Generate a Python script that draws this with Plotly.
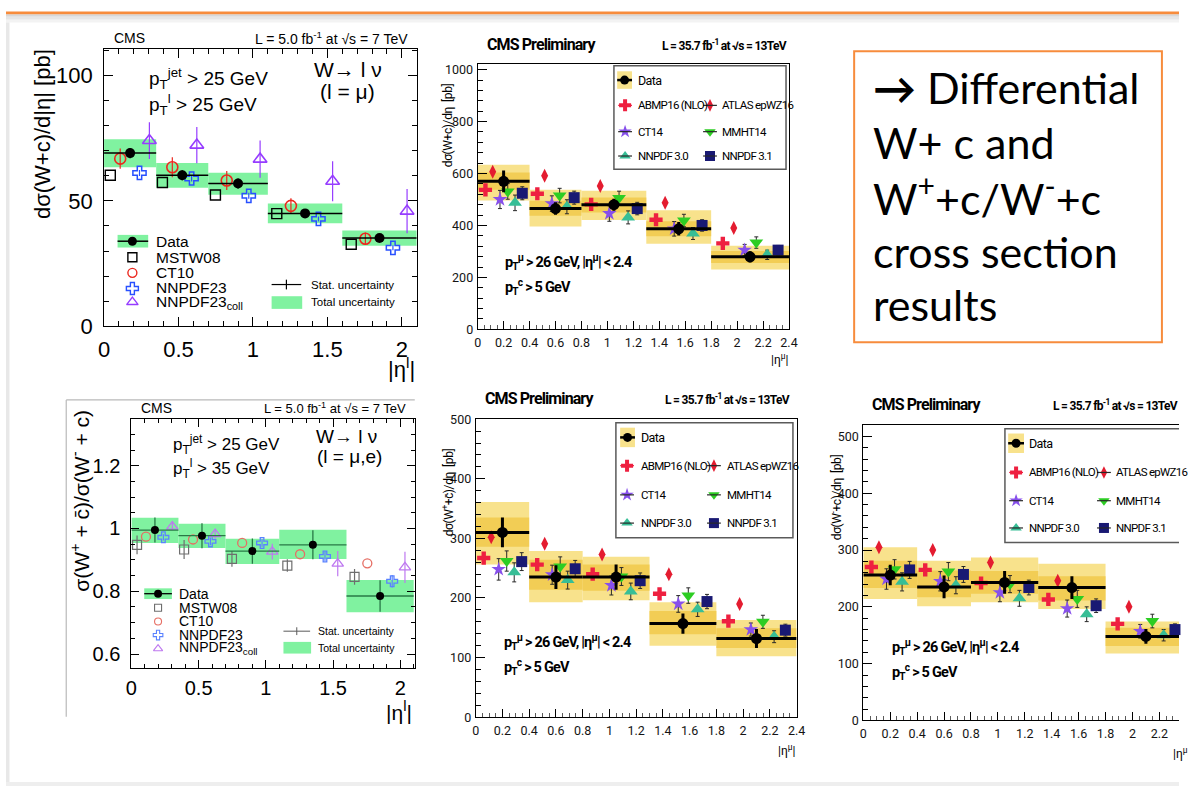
import plotly.graph_objects as go

W, H = 1188, 799
ARIAL = "Liberation Sans, Arial, Helvetica, sans-serif"
NARROW = "Roboto, Liberation Sans, Arial, sans-serif"
SLIDE = "Lato, Carlito, Calibri, sans-serif"

GREEN = "rgb(128,242,160)"
DKGREEN = "rgb(40,120,70)"
YEL_OUT = "rgb(248,226,140)"
YEL_IN = "rgb(242,205,85)"
ORANGE = "rgb(247,140,60)"

C_ABMP = "rgb(238,32,64)"
C_ATLAS = "rgb(228,28,48)"
C_CT14 = "rgb(135,80,235)"
C_MMHT = "rgb(45,205,35)"
C_NN30 = "rgb(55,190,150)"
C_NN31 = "rgb(25,25,115)"

# ---------------- 7 TeV (CMS, 5.0 fb-1) ----------------
ETA7_EDGES = [0.0, 0.35, 0.7, 1.1, 1.6, 2.1]

# dsigma(W+c)/d|eta| [pb]
WC7_DATA = [69.0, 60.2, 56.9, 45.0, 35.2]
WC7_STAT = [2.0, 2.0, 2.0, 1.8, 1.6]
WC7_TOT_LO = [63.4, 55.2, 52.4, 41.1, 32.1]
WC7_TOT_HI = [74.5, 65.1, 61.2, 48.9, 38.2]
WC7_MSTW08 = [60.2, 57.3, 52.3, 44.9, 32.7]
WC7_CT10 = [66.8, 63.4, 58.1, 48.0, 34.9]
WC7_CT10_ERR = [4.0, 4.0, 3.8, 3.0, 2.5]
WC7_NNPDF23 = [61.1, 58.9, 52.0, 42.8, 31.3]
WC7_NNPDF23_ERR = [1.2, 1.2, 1.2, 1.0, 1.0]
WC7_COLL = [74.0, 72.2, 66.6, 57.8, 45.9]
WC7_COLL_ERR = [7.3, 7.2, 7.4, 8.0, 8.8]

# sigma(W+ + cbar) / sigma(W- + c)
R7_DATA = [0.995, 0.977, 0.928, 0.948, 0.785]
R7_STAT = [0.04, 0.04, 0.04, 0.046, 0.05]
R7_TOT_LO = [0.954, 0.938, 0.887, 0.903, 0.733]
R7_TOT_HI = [1.034, 1.015, 0.967, 0.996, 0.836]
R7_MSTW08 = [0.948, 0.933, 0.903, 0.882, 0.846]
R7_MSTW08_ERR = [0.03, 0.03, 0.025, 0.02, 0.025]
R7_CT10 = [0.974, 0.965, 0.954, 0.918, 0.889]
R7_NNPDF23 = [0.972, 0.959, 0.954, 0.911, 0.832]
R7_NNPDF23_ERR = [0.01, 0.012, 0.012, 0.015, 0.02]
R7_COLL = [1.006, 0.982, 0.926, 0.888, 0.876]
R7_COLL_ERR = [0.012, 0.015, 0.025, 0.04, 0.05]

# ---------------- 13 TeV (CMS Preliminary, 35.7 fb-1) ----------------
ETA13_EDGES = [0.0, 0.4, 0.8, 1.3, 1.8, 2.4]

# dsigma(W+c)/deta [pb]
WC13_DATA = [570, 465, 480, 387, 279]
WC13_STAT = [42, 24, 23, 26, 22]
WC13_TOT_LO = [496, 396, 421, 330, 230]
WC13_TOT_HI = [634, 537, 534, 459, 322]
WC13_SYS_LO = [537, 437, 450, 358, 255]
WC13_SYS_HI = [604, 495, 508, 416, 302]
WC13_ABMP16 = [537, 522, 481, 422, 331]
WC13_ATLAS = [607, 591, 552, 487, 390]
WC13_CT14 = [500, 484, 446, 387, 305]
WC13_MMHT14 = [531, 515, 506, 419, 334]
WC13_NNPDF30 = [487, 472, 431, 369, 287]
WC13_NNPDF31 = [524, 507, 465, 400, 305]
WC13_CT14_ERR = [35, 30, 30, 28, 22]
WC13_MMHT14_ERR = [30, 28, 26, 24, 22]
WC13_NNPDF30_ERR = [30, 27, 25, 23, 18]
WC13_NNPDF31_ERR = [25, 25, 24, 22, 18]

# dsigma(W+ + cbar)/deta [pb]
WP13_DATA = [310, 235, 235, 157, 132]
WP13_STAT = [25, 20, 21, 17, 16]
WP13_TOT_LO = [256, 193, 196, 120, 102]
WP13_TOT_HI = [361, 279, 269, 193, 163]
WP13_SYS_LO = [286, 214, 212, 139, 116]
WP13_SYS_HI = [335, 264, 256, 178, 149]
WP13_ABMP16 = [267, 256, 240, 207, 161]
WP13_ATLAS = [302, 291, 273, 240, 190]
WP13_CT14 = [248, 239, 221, 190, 147]
WP13_MMHT14 = [262, 253, 236, 204, 160]
WP13_NNPDF30 = [243, 230, 211, 181, 135]
WP13_NNPDF31 = [261, 249, 229, 194, 146]
WP13_CT14_ERR = [18, 16, 16, 14, 11]
WP13_MMHT14_ERR = [17, 16, 15, 13, 11]
WP13_NNPDF30_ERR = [16, 15, 14, 12, 10]
WP13_NNPDF31_ERR = [15, 14, 13, 12, 10]

# dsigma(W- + c)/deta [pb]
WM13_DATA = [256, 235, 243, 234, 148]
WM13_STAT = [18, 20, 20, 20, 13]
WM13_TOT_LO = [214, 201, 208, 196, 118]
WM13_TOT_HI = [305, 281, 287, 276, 174]
WM13_SYS_LO = [233, 217, 223, 211, 131]
WM13_SYS_HI = [281, 264, 263, 254, 163]
WM13_ABMP16 = [270, 265, 242, 213, 170]
WM13_ATLAS = [305, 300, 278, 246, 200]
WM13_CT14 = [249, 245, 225, 197, 157]
WM13_MMHT14 = [266, 262, 240, 214, 175]
WM13_NNPDF30 = [244, 238, 215, 187, 150]
WM13_NNPDF31 = [265, 257, 234, 202, 160]
WM13_CT14_ERR = [18, 17, 16, 15, 12]
WM13_MMHT14_ERR = [17, 16, 15, 15, 12]
WM13_NNPDF30_ERR = [16, 15, 14, 13, 10]
WM13_NNPDF31_ERR = [15, 14, 13, 12, 10]

# ---------------- layout of the five panels (pixel frames) ----------------
PANELS = {
    1: dict(px=(99.3, 416.0), py=(42.0, 327.0), xr=[0, 2.1], yr=[0, 110.5]),
    2: dict(px=(477.7, 793.0), py=(57.7, 330.0), xr=[0, 2.4], yr=[0, 1021]),
    3: dict(px=(127.0, 414.0), py=(421.7, 678.0), xr=[0, 2.108], yr=[0.555, 1.35]),
    4: dict(px=(475.7, 800.7), py=(422.3, 728.3), xr=[0, 2.4], yr=[0, 500]),
    5: dict(px=(868.3, 1188.0), py=(428.3, 731.7), xr=[0, 2.346], yr=[0, 520]),
}
CANVAS = 6

# horizontal placement of predictions inside a bin (fraction of bin width)
OFF7 = dict(mstw=[0.12] * 5, ct10=[0.31] * 5, nnpdf=[0.68] * 5,
            coll=[0.87, 0.78, 0.87, 0.87, 0.87])
OFF13 = dict(abmp=0.15, atlas=0.29, ct14=0.43, mmht=0.58, nn30=0.72, nn31=0.86)


def centers(e):
    return [(a + b) / 2 for a, b in zip(e[:-1], e[1:])]


def halfw(e):
    return [(b - a) / 2 for a, b in zip(e[:-1], e[1:])]


def widths(e):
    return [b - a for a, b in zip(e[:-1], e[1:])]


def at_frac(e, fr):
    if not isinstance(fr, list):
        fr = [fr] * (len(e) - 1)
    return [a + f * (b - a) for a, b, f in zip(e[:-1], e[1:], fr)]


def refs(n):
    return ("x" if n == 1 else f"x{n}"), ("y" if n == 1 else f"y{n}")


fig = go.Figure()


def add(tr, n):
    xr, yr = refs(n)
    tr.update(xaxis=xr, yaxis=yr, showlegend=False, hoverinfo="skip")
    fig.add_trace(tr)


def band(n, edges, lo, hi, color):
    add(go.Bar(x=centers(edges), y=[h - l for l, h in zip(lo, hi)], base=lo,
               width=widths(edges), marker=dict(color=color, line=dict(width=0))), n)


def pts(n, x, y, symbol, size, color, err=None, ecolor=None, ethick=1.2,
        ewidth=0, lw=1.5, open_=False):
    mk = dict(symbol=symbol, size=size, color=color)
    if open_:
        mk["line"] = dict(color=color, width=lw)
    else:
        mk["line"] = dict(width=0)
    tr = go.Scatter(x=x, y=y, mode="markers", marker=mk, cliponaxis=False)
    if err is not None:
        tr.update(error_y=dict(type="data", array=err, color=ecolor or color,
                               thickness=ethick, width=ewidth))
    add(tr, n)


def data_pts(n, edges, y, stat, size, color, thick, lcolor):
    add(go.Scatter(x=centers(edges), y=y, mode="markers",
                   marker=dict(symbol="circle", size=size, color=color),
                   error_x=dict(type="data", array=halfw(edges), color=lcolor,
                                thickness=thick, width=0),
                   error_y=dict(type="data", array=stat, color=lcolor,
                                thickness=thick, width=0)), n)


# ---------- panel 1: W+c 7 TeV ----------
band(1, ETA7_EDGES, WC7_TOT_LO, WC7_TOT_HI, GREEN)
pts(1, at_frac(ETA7_EDGES, OFF7["mstw"]), WC7_MSTW08, "square-open", 10, "black", lw=1.4, open_=True)
pts(1, at_frac(ETA7_EDGES, OFF7["ct10"]), WC7_CT10, "circle-open", 11, "rgb(235,40,30)",
    err=WC7_CT10_ERR, lw=1.6, open_=True)
pts(1, at_frac(ETA7_EDGES, OFF7["nnpdf"]), WC7_NNPDF23, "cross-open", 11, "rgb(40,80,255)",
    err=WC7_NNPDF23_ERR, lw=1.5, open_=True)
pts(1, at_frac(ETA7_EDGES, OFF7["coll"]), WC7_COLL, "triangle-up-open", 12, "rgb(150,60,255)",
    err=WC7_COLL_ERR, lw=1.6, open_=True)
data_pts(1, ETA7_EDGES, WC7_DATA, WC7_STAT, 10, "black", 1.5, "black")

# ---------- panel 3: ratio 7 TeV ----------
band(3, ETA7_EDGES, R7_TOT_LO, R7_TOT_HI, GREEN)
pts(3, at_frac(ETA7_EDGES, OFF7["mstw"]), R7_MSTW08, "square-open", 9, "rgb(110,110,110)",
    err=R7_MSTW08_ERR, lw=1.2, open_=True)
pts(3, at_frac(ETA7_EDGES, OFF7["ct10"]), R7_CT10, "circle-open", 9, "rgb(230,110,100)",
    lw=1.3, open_=True)
pts(3, at_frac(ETA7_EDGES, OFF7["nnpdf"]), R7_NNPDF23, "cross-open", 9, "rgb(90,130,255)",
    err=R7_NNPDF23_ERR, lw=1.3, open_=True)
pts(3, at_frac(ETA7_EDGES, OFF7["coll"]), R7_COLL, "triangle-up-open", 10, "rgb(190,120,240)",
    err=R7_COLL_ERR, lw=1.3, open_=True)
data_pts(3, ETA7_EDGES, R7_DATA, R7_STAT, 8, "black", 1.3, DKGREEN)


# ---------- 13 TeV panels ----------
def panel13(n, tlo, thi, slo, shi, data, stat, abmp, atlas, ct14, mmht, nn30, nn31,
            e_ct14, e_mmht, e_nn30, e_nn31):
    e = ETA13_EDGES
    band(n, e, tlo, thi, YEL_OUT)
    band(n, e, slo, shi, YEL_IN)
    ek = dict(ecolor="rgb(40,40,40)", ethick=1, ewidth=2)
    pts(n, at_frac(e, OFF13["abmp"]), abmp, "cross", 11, C_ABMP)
    pts(n, at_frac(e, OFF13["atlas"]), atlas, "diamond-tall", 10, C_ATLAS)
    pts(n, at_frac(e, OFF13["ct14"]), ct14, "star", 11, C_CT14, err=e_ct14, **ek)
    pts(n, at_frac(e, OFF13["mmht"]), mmht, "triangle-down", 12, C_MMHT, err=e_mmht, **ek)
    pts(n, at_frac(e, OFF13["nn30"]), nn30, "triangle-up", 12, C_NN30, err=e_nn30, **ek)
    pts(n, at_frac(e, OFF13["nn31"]), nn31, "square", 11, C_NN31, err=e_nn31, **ek)
    data_pts(n, e, data, stat, 11, "black", 3, "black")


panel13(2, WC13_TOT_LO, WC13_TOT_HI, WC13_SYS_LO, WC13_SYS_HI, WC13_DATA, WC13_STAT,
        WC13_ABMP16, WC13_ATLAS, WC13_CT14, WC13_MMHT14, WC13_NNPDF30, WC13_NNPDF31,
        WC13_CT14_ERR, WC13_MMHT14_ERR, WC13_NNPDF30_ERR, WC13_NNPDF31_ERR)
panel13(4, WP13_TOT_LO, WP13_TOT_HI, WP13_SYS_LO, WP13_SYS_HI, WP13_DATA, WP13_STAT,
        WP13_ABMP16, WP13_ATLAS, WP13_CT14, WP13_MMHT14, WP13_NNPDF30, WP13_NNPDF31,
        WP13_CT14_ERR, WP13_MMHT14_ERR, WP13_NNPDF30_ERR, WP13_NNPDF31_ERR)
panel13(5, WM13_TOT_LO, WM13_TOT_HI, WM13_SYS_LO, WM13_SYS_HI, WM13_DATA, WM13_STAT,
        WM13_ABMP16, WM13_ATLAS, WM13_CT14, WM13_MMHT14, WM13_NNPDF30, WM13_NNPDF31,
        WM13_CT14_ERR, WM13_MMHT14_ERR, WM13_NNPDF30_ERR, WM13_NNPDF31_ERR)

# ---------- axes ----------
layout = {}


def set_axes(n, xkw, ykw):
    p = PANELS[n]
    xa = "xaxis" if n == 1 else f"xaxis{n}"
    ya = "yaxis" if n == 1 else f"yaxis{n}"
    xr, yr = refs(n)
    base = dict(showline=True, linecolor="black", linewidth=1, ticks="inside",
                tickcolor="black", tickwidth=1, showgrid=False, zeroline=False,
                fixedrange=True)
    layout[xa] = dict(base, domain=[p["px"][0] / W, p["px"][1] / W], range=p["xr"],
                      anchor=yr, **xkw)
    layout[ya] = dict(base, domain=[1 - p["py"][1] / H, 1 - p["py"][0] / H], range=p["yr"],
                      anchor=xr, **ykw)


F7 = dict(family=ARIAL, color="black")
set_axes(1,
         dict(mirror="allticks", dtick=0.5, tick0=0, ticklen=9, tickfont=dict(F7, size=22),
              ticklabelstandoff=3,
              minor=dict(dtick=0.1, ticklen=5, ticks="inside", tickcolor="black")),
         dict(mirror="allticks", dtick=50, tick0=0, ticklen=9, tickfont=dict(F7, size=22),
              ticklabelstandoff=6,
              minor=dict(dtick=10, ticklen=5, ticks="inside", tickcolor="black")))
set_axes(3,
         dict(mirror="allticks", dtick=0.5, tick0=0, ticklen=8, tickfont=dict(F7, size=20),
              ticklabelstandoff=2,
              minor=dict(dtick=0.1, ticklen=4, ticks="inside", tickcolor="black")),
         dict(mirror="allticks", dtick=0.2, tick0=0.6, ticklen=8, tickfont=dict(F7, size=20),
              ticklabelstandoff=6,
              minor=dict(dtick=0.05, ticklen=4, ticks="inside", tickcolor="black")))
F13 = dict(family=NARROW, color="rgb(20,20,20)", size=12.5)
for n, yd, ym in [(2, 200, 40), (4, 100, 20), (5, 100, 20)]:
    set_axes(n,
             dict(mirror=True, dtick=0.2, tick0=0, ticklen=8, tickfont=F13,
                  ticklabelstandoff=2,
                  minor=dict(dtick=0.05, ticklen=4, ticks="inside", tickcolor="rgb(90,90,90)")),
             dict(mirror=(n != 5), dtick=yd, tick0=0, ticklen=9, tickfont=F13,
                  ticklabelstandoff=1,
                  minor=dict(dtick=ym, ticklen=5, ticks="inside", tickcolor="black")))

# full-page pixel canvas used for slide decoration, legends and labels
layout["xaxis6"] = dict(domain=[0, 1], range=[0, W], visible=False, anchor="y6", fixedrange=True)
layout["yaxis6"] = dict(domain=[0, 1], range=[H, 0], visible=False, anchor="x6", fixedrange=True)

shapes = []
annotations = []


def rect(x0, y0, x1, y1, fill=None, line=None, lw=0, layer="below"):
    shapes.append(dict(type="rect", xref="x6", yref="y6", x0=x0, y0=y0, x1=x1, y1=y1,
                       fillcolor=fill or "rgba(0,0,0,0)",
                       line=dict(color=line or "rgba(0,0,0,0)", width=lw), layer=layer))


def seg(x0, y0, x1, y1, color, lw, layer="above"):
    shapes.append(dict(type="line", xref="x6", yref="y6", x0=x0, y0=y0, x1=x1, y1=y1,
                       line=dict(color=color, width=lw), layer=layer))


def txt(x, y, s, size, family=ARIAL, xa="left", ya="middle", angle=0, color="black"):
    annotations.append(dict(xref="x6", yref="y6", x=x, y=y, text=s, showarrow=False,
                            xanchor=xa, yanchor=ya, textangle=angle,
                            font=dict(family=family, size=size, color=color)))


def tight(s, ls):
    # condensed look for the 13 TeV labels
    return f"<span style='letter-spacing:{ls}px'>{s}</span>"


def key(x, y, symbol, size, color, open_=False, lw=1.4):
    mk = dict(symbol=symbol, size=size, color=color)
    mk["line"] = dict(color=color, width=lw) if open_ else dict(width=0)
    add(go.Scatter(x=[x], y=[y], mode="markers", marker=mk, cliponaxis=False), CANVAS)


# slide decoration
rect(0, 6.5, W, 9, fill="rgb(215,215,215)")
rect(0, 9, W, 12, fill="rgb(230,230,230)")
rect(0, 12, W, 15, fill="rgb(243,243,243)")
rect(0, 3.5, W, 6.5, fill=ORANGE)
rect(0, 15, 3.5, H, fill="rgb(232,232,232)")
rect(0, 795, W, H, fill="rgb(238,238,238)")
seg(61, 402.5, 414, 402.5, "rgb(185,185,185)", 1.2, layer="below")
seg(61, 402.5, 61, 728, "rgb(185,185,185)", 1.2, layer="below")

# summary box
rect(859, 44.3, 1170.7, 343.3, line=ORANGE, lw=2)
for s, y in [("<b>→</b> Differential", 82), ("W+ c and", 138),
             ("W<sup>+</sup>+c/W<sup>-</sup>+c", 193), ("cross section", 250),
             ("results", 305)]:
    txt(876, y, s, 43, family=SLIDE)

# ---- panel 1 labels ----
txt(107, 31, "CMS", 14)
txt(409, 31, "L = 5.0 fb<sup>-1</sup> at √s = 7 TeV", 14, xa="right")
txt(143, 72, "p<sub>T</sub><sup>jet</sup> > 25 GeV", 19)
txt(143, 99, "p<sub>T</sub><sup>l</sup> > 25 GeV", 19)
txt(346, 63, "W→ l ν", 21, xa="center")
txt(346, 86, "(l = μ)", 21, xa="center")
txt(37, 130, "dσ(W+c)/d|η| [pb]", 22, angle=-90, xa="center")
txt(416, 370, "|η<sup>l</sup>|", 22, xa="right")

rect(113, 233, 144, 246, fill=GREEN)
seg(113, 239.5, 144, 239.5, "black", 1.5)
key(128, 239.5, "circle", 9, "black")
key(128, 256, "square-open", 9, "black", open_=True)
key(128, 272, "circle-open", 9, "rgb(235,40,30)", open_=True)
key(128, 288, "cross-open", 10, "rgb(40,80,255)", open_=True)
key(128, 302, "triangle-up-open", 10, "rgb(150,60,255)", open_=True)
for s, y in [("Data", 239.5), ("MSTW08", 256), ("CT10", 272), ("NNPDF23", 287.5),
             ("NNPDF23<sub>coll</sub>", 302)]:
    txt(150, y, s, 15.5)
seg(269, 284, 299, 284, "black", 1.2)
seg(284, 279, 284, 289, "black", 1.2)
txt(307, 284, "Stat. uncertainty", 11.5)
rect(269, 296, 300, 309, fill=GREEN)
txt(307, 302, "Total uncertainty", 11.5)

# ---- panel 3 labels ----
txt(135, 411, "CMS", 14)
txt(407, 411, "L = 5.0 fb<sup>-1</sup> at √s = 7 TeV", 13, xa="right")
txt(167, 448, "p<sub>T</sub><sup>jet</sup> > 25 GeV", 17)
txt(167, 473, "p<sub>T</sub><sup>l</sup> > 35 GeV", 17)
txt(345, 440, "W→ l ν", 19, xa="center")
txt(348, 461, "(l = μ,e)", 19, xa="center")
txt(75, 506, "σ(W<sup>+</sup> + c\u0304)/σ(W<sup>-</sup> + c)", 21, angle=-90, xa="center")
txt(413, 722, "|η<sup>l</sup>|", 21, xa="right")

rect(140, 596, 168, 607, fill=GREEN)
seg(140, 601.5, 168, 601.5, "black", 1.3)
key(154, 601.5, "circle", 8, "black")
key(154, 616, "square-open", 7, "rgb(110,110,110)", open_=True, lw=1.1)
key(154, 630, "circle-open", 7, "rgb(230,110,100)", open_=True, lw=1.1)
key(154, 644, "cross-open", 8, "rgb(90,130,255)", open_=True, lw=1.1)
key(154, 658, "triangle-up-open", 8, "rgb(190,120,240)", open_=True, lw=1.1)
for s, y in [("Data", 601.5), ("MSTW08", 616), ("CT10", 630), ("NNPDF23", 644),
             ("NNPDF23<sub>coll</sub>", 657.5)]:
    txt(173, y, s, 14)
seg(281, 640, 308, 640, "rgb(90,90,90)", 1)
seg(294.5, 636, 294.5, 644, "rgb(90,90,90)", 1)
txt(314, 640, "Stat. uncertainty", 10.5)
rect(281, 651, 309, 663, fill=GREEN)
txt(314, 657, "Total uncertainty", 10.5)

# ---- 13 TeV panel labels and legends ----
ENTRIES13 = [
    [("ABMP16 (NLO)", "cross", 10, C_ABMP), ("ATLAS epWZ16", "diamond-tall", 9, C_ATLAS)],
    [("CT14", "star", 10, C_CT14), ("MMHT14", "triangle-down", 10, C_MMHT)],
    [("NNPDF 3.0", "triangle-up", 10, C_NN30), ("NNPDF 3.1", "square", 10, C_NN31)],
]


def labels13(cms_xy, lumi_x, ytitle, ytitle_xy, xtitle_xy, xtitle_anchor, cuts_xy,
             box, drect, rows, lx, ltx, rx, rtx):
    txt(cms_xy[0], cms_xy[1], tight("<b>CMS Preliminary</b>", -0.9), 16, family=NARROW)
    txt(lumi_x, cms_xy[1] + 1,
        tight("<b>L = 35.7 fb<sup>-1</sup> at √s = 13TeV</b>", -0.7), 12, family=NARROW)
    txt(ytitle_xy[0], ytitle_xy[1], tight(ytitle, -0.4), 12, family=NARROW, angle=-90, xa="center")
    txt(xtitle_xy[0], xtitle_xy[1], "|η<sup>μ</sup>|", 12, family=NARROW, xa=xtitle_anchor)
    txt(cuts_xy[0], cuts_xy[1],
        tight("<b>p<sub>T</sub><sup>μ</sup> > 26 GeV, |η<sup>μ</sup>| < 2.4</b>", -0.8),
        14.5, family=NARROW)
    txt(cuts_xy[0], cuts_xy[1] + 26, tight("<b>p<sub>T</sub><sup>c</sup> > 5 GeV</b>", -0.8),
        14.5, family=NARROW)
    rect(*box, line="rgb(90,90,90)", lw=1.5)
    rect(*drect, fill=YEL_OUT)
    seg(drect[0], rows[0], drect[2], rows[0], "black", 2.5)
    key((drect[0] + drect[2]) / 2, rows[0], "circle", 9, "black")
    txt(ltx, rows[0], tight("Data", -0.6), 12.5, family=NARROW)
    for row, y in zip(ENTRIES13, rows[1:]):
        for (name, sym, sz, col), kx, tx in zip(row, (lx, rx), (ltx, rtx)):
            seg(kx - 7, y, kx + 7, y, col if sym == "cross" else "rgb(40,40,40)", 1.2)
            key(kx, y, sym, sz, col)
            txt(tx, y, tight(name, -0.7), 11.5, family=NARROW)


labels13((485, 37), 662, "dσ(W+c)/dη  [pb]", (448, 120), (794, 360), "right", (503, 261),
         (615.7, 59.3, 790, 165.7), (619, 65, 634, 83), [74, 100, 127, 152], 627, 638, 713, 723)
labels13((483, 401), 665, "dσ(W<sup>+</sup>+c\u0304)/dη  [pb]", (448, 497), (801, 762), "right",
         (502, 651), (617.7, 426, 797, 544), (622, 431, 637, 451), [441, 470, 500, 529],
         629, 641, 717, 728)
labels13((875, 407), 1058, "dσ(W<sup>-</sup>+c)/dη  [pb]", (840, 502), (1180, 765), "left",
         (895, 656), (1011.7, 432, 1200, 549), (1015, 437, 1031, 457), [447, 477, 506, 534],
         1023, 1034, 1112, 1122)

fig.update_layout(
    width=W, height=H, margin=dict(l=0, r=0, t=0, b=0),
    paper_bgcolor="white", plot_bgcolor="rgba(0,0,0,0)",
    barmode="overlay", showlegend=False,
    shapes=shapes, annotations=annotations, **layout,
)
fig.write_html("out.html")
